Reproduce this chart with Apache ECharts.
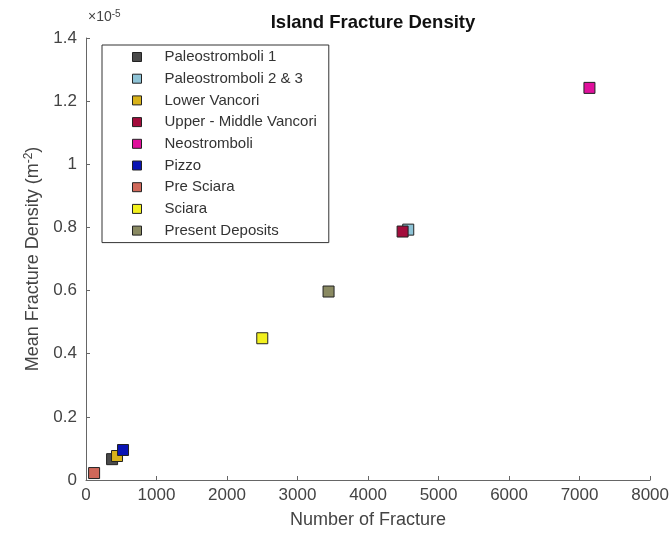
<!DOCTYPE html>
<html>
<head>
<meta charset="utf-8">
<script src="https://cdn.jsdelivr.net/npm/echarts@6/dist/echarts.min.js"></script>
<style>html,body{margin:0;padding:0;background:#fff}#c{width:672px;height:534px}</style>
</head>
<body>
<div id="c"></div>
<script>
const seriesNames = ['Paleostromboli 1','Paleostromboli 2 & 3','Lower Vancori','Upper - Middle Vancori','Neostromboli','Pizzo','Pre Sciara','Sciara','Present Deposits'];
const fractureCounts = [370, 4570, 440, 4490, 7140, 525, 115, 2500, 3440];
const densityE5 = [0.066, 0.793, 0.076, 0.787, 1.242, 0.095, 0.022, 0.449, 0.597]; // ×10^-5 m^-2
const colors = ['#4a4a4a','#8ec3d6','#d8b21a','#a30d3c','#e0109c','#0a14b4','#d0685a','#f2f01e','#8a8a62'];
const xTicks = [0,1000,2000,3000,4000,5000,6000,7000,8000];
const yTicks = [0,0.2,0.4,0.6,0.8,1,1.2,1.4];

const chart = echarts.init(document.getElementById('c'));
const font = 'Liberation Sans, Arial, sans-serif';
const series = seriesNames.map((n,i)=>({
  name:n, type:'scatter', symbol:'rect', symbolSize:11,
  itemStyle:{color:colors[i], borderColor:'#222', borderWidth:1, opacity:1},
  data:[[fractureCounts[i], densityE5[i]]]
}));
chart.setOption({
  backgroundColor:'#fff',
  animation:false,
  title:{text:'Island Fracture Density', left:368, top:8, textAlign:'center',
    textStyle:{fontFamily:font, fontSize:18.5, fontWeight:'bold', color:'#111'}},
  grid:{left:86, right:21, top:38, bottom:53},
  legend:{orient:'vertical', left:102, top:45, data:seriesNames,
    itemWidth:9, itemHeight:9, itemGap:5.7, icon:'rect',
    borderColor:'#333', borderWidth:1, padding:[4,12,4,30], backgroundColor:'#fff',
    itemStyle:{borderColor:'#222', borderWidth:1},
    textStyle:{fontFamily:font, fontSize:15, lineHeight:16, color:'#333', padding:[0,0,0,18]}},
  xAxis:{type:'value', min:xTicks[0], max:xTicks[xTicks.length-1], interval:1000,
    name:'Number of Fracture', nameLocation:'middle', nameGap:31,
    nameTextStyle:{fontFamily:font, fontSize:18, color:'#444'},
    axisLine:{lineStyle:{color:'#666'}}, axisTick:{inside:true, length:4, lineStyle:{color:'#666'}},
    axisLabel:{fontFamily:font, fontSize:17, color:'#444', margin:7, formatter:v=>String(v)}, splitLine:{show:false}},
  yAxis:{type:'value', min:yTicks[0], max:yTicks[yTicks.length-1], interval:0.2,
    name:'{a|Mean Fracture Density (m}{s|-2}{a|)}', nameLocation:'middle', nameGap:34,
    nameTextStyle:{rich:{a:{fontFamily:font, fontSize:18, color:'#444'}, s:{fontFamily:font, fontSize:12, color:'#444', verticalAlign:'bottom', padding:[0,0,9,0]}}},
    axisLine:{show:true, lineStyle:{color:'#666'}}, axisTick:{show:true, inside:true, length:4, lineStyle:{color:'#666'}},
    axisLabel:{fontFamily:font, fontSize:17, color:'#444', margin:9,
      formatter:v=>String(Math.round(v*10)/10)}, splitLine:{show:false}},
  graphic:[{type:'text', left:88, top:9, style:{text:'{a|×10}{s|-5}', rich:{a:{fontFamily:font, fontSize:14, fill:'#444'}, s:{fontFamily:font, fontSize:10, fill:'#444', verticalAlign:'bottom', padding:[0,0,7,0]}}}}],
  series:series
});
</script>
</body>
</html>
